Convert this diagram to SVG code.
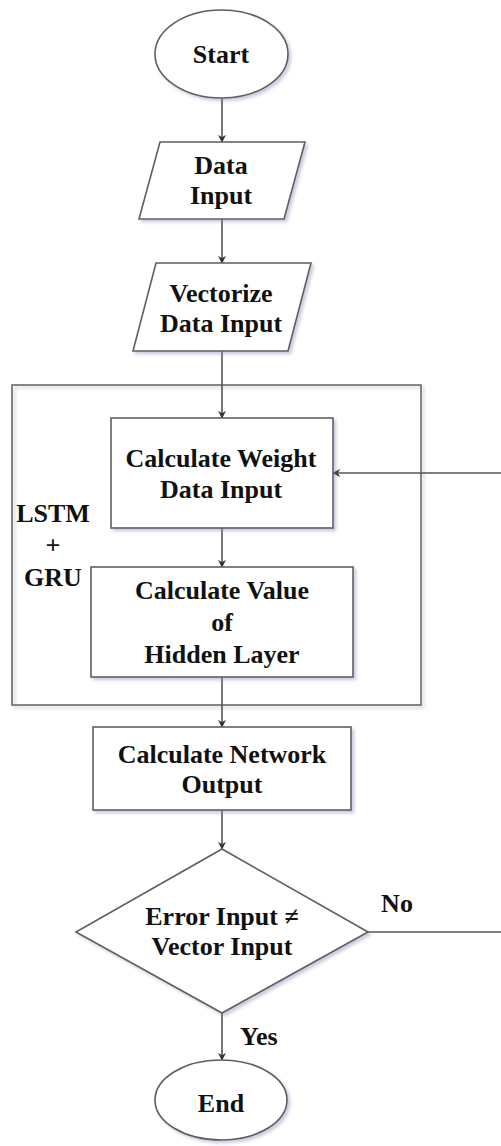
<svg xmlns="http://www.w3.org/2000/svg" width="501" height="1146" viewBox="0 0 501 1146">
  <style>
    .shape { fill: #ffffff; stroke: #5f5f5f; stroke-width: 1.6; filter: url(#shadow); }
    .frame { fill: none; stroke: #6a6a6a; stroke-width: 1.6; filter: url(#shadow); }
    .lbl { font-family: "Liberation Serif", "Times New Roman", serif; font-weight: bold; font-size: 26px; fill: #111111; text-anchor: middle; }
    .edge { fill: none; stroke: #555555; stroke-width: 1.6; }
  </style>
  <defs>
    <filter id="shadow" x="-10%" y="-10%" width="130%" height="130%">
      <feDropShadow dx="2.5" dy="2.5" stdDeviation="1.5" flood-color="#8a90b8" flood-opacity="0.45"/>
    </filter>
    <marker id="arrow" viewBox="0 0 10 10" refX="9" refY="5" markerWidth="8" markerHeight="8" markerUnits="userSpaceOnUse" orient="auto">
      <path d="M0,0 L10,5 L0,10 L3,5 Z" fill="#333333"/>
    </marker>
  </defs>
  <rect width="501" height="1146" fill="#ffffff"/>

  <g id="container">
    <rect class="frame" x="12" y="385" width="409" height="320"/>
    <text class="lbl" x="53" y="522">LSTM</text>
    <text class="lbl" x="53" y="554">+</text>
    <text class="lbl" x="53" y="586">GRU</text>
  </g>

  <g id="connectors">
    <line class="edge" x1="222" y1="98" x2="222" y2="142" marker-end="url(#arrow)"/>
    <line class="edge" x1="222" y1="219" x2="222" y2="263" marker-end="url(#arrow)"/>
    <line class="edge" x1="222" y1="351" x2="222" y2="418" marker-end="url(#arrow)"/>
    <line class="edge" x1="222" y1="528" x2="222" y2="567" marker-end="url(#arrow)"/>
    <line class="edge" x1="222" y1="677" x2="222" y2="727" marker-end="url(#arrow)"/>
    <line class="edge" x1="222" y1="810" x2="222" y2="849" marker-end="url(#arrow)"/>
    <line class="edge" x1="222" y1="1013" x2="222" y2="1060" marker-end="url(#arrow)"/>
    <line class="edge" x1="368" y1="932" x2="501" y2="932"/>
    <line class="edge" x1="501" y1="473" x2="333" y2="473" marker-end="url(#arrow)"/>
    <text class="lbl" x="397" y="912">No</text>
    <text class="lbl" x="240" y="1045" style="text-anchor:start">Yes</text>
  </g>

  <g id="start">
    <ellipse class="shape" cx="221.5" cy="54" rx="66.5" ry="44"/>
    <text class="lbl" x="221" y="63">Start</text>
  </g>

  <g id="data-input">
    <polygon class="shape" points="160,142 305,142 284,219 139,219"/>
    <text class="lbl" x="221" y="174">Data</text>
    <text class="lbl" x="221" y="204">Input</text>
  </g>

  <g id="vectorize">
    <polygon class="shape" points="156,263 311,263 288,351 133,351"/>
    <text class="lbl" x="221" y="302">Vectorize</text>
    <text class="lbl" x="221" y="332">Data Input</text>
  </g>

  <g id="weight">
    <rect class="shape" x="111" y="418" width="222" height="110"/>
    <text class="lbl" x="221" y="467">Calculate Weight</text>
    <text class="lbl" x="221" y="498">Data Input</text>
  </g>

  <g id="hidden">
    <rect class="shape" x="91" y="567" width="262" height="110"/>
    <text class="lbl" x="222" y="599">Calculate Value</text>
    <text class="lbl" x="222" y="631">of</text>
    <text class="lbl" x="222" y="663">Hidden Layer</text>
  </g>

  <g id="network">
    <rect class="shape" x="93" y="727" width="258" height="83"/>
    <text class="lbl" x="222" y="763">Calculate Network</text>
    <text class="lbl" x="222" y="793">Output</text>
  </g>

  <g id="decision">
    <polygon class="shape" points="222,849 368,932 222,1013 76,932"/>
    <text class="lbl" x="222" y="925">Error Input ≠</text>
    <text class="lbl" x="222" y="955">Vector Input</text>
  </g>

  <g id="end">
    <ellipse class="shape" cx="221" cy="1100" rx="66" ry="40"/>
    <text class="lbl" x="221" y="1112">End</text>
  </g>
</svg>
